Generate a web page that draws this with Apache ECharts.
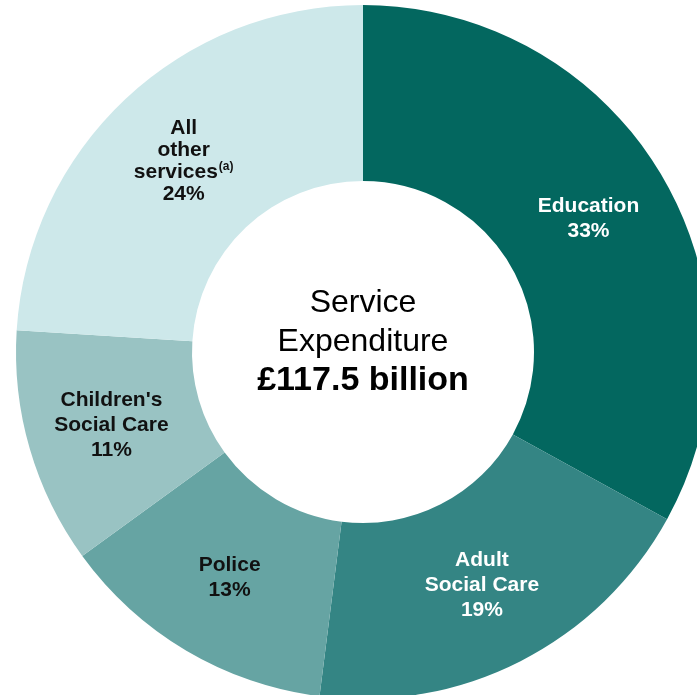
<!DOCTYPE html>
<html>
<head>
<meta charset="utf-8">
<script src="https://cdn.jsdelivr.net/npm/echarts@6/dist/echarts.min.js"></script>
<style>
html,body{margin:0;padding:0;background:#fff;}
#main{width:697px;height:695px;}
</style>
</head>
<body>
<div id="main"></div>
<script>
var categories = ["Education", "Adult Social Care", "Police", "Children's Social Care", "All other services"];
var values = [33, 19, 13, 11, 24];
var labelLines = [
  ["Education"],
  ["Adult", "Social Care"],
  ["Police"],
  ["Children's", "Social Care"],
  ["All", "other", "services"]
];
var footnote = "(a)";
var centerLines = ["Service", "Expenditure", "£117.5 billion"];
var colors = ["#03675f", "#348584", "#66a4a3", "#99c3c3", "#cde8ea"];
var labelColors = ["#ffffff", "#ffffff", "#111111", "#111111", "#111111"];

var FONT = "'Liberation Sans', Arial, sans-serif";

var data = categories.map(function (c, i) {
  var lines = labelLines[i].map(function (l, j) {
    var s = '{b|' + l + '}';
    if (i === 4 && j === labelLines[i].length - 1) s += '{sup|' + footnote + '}';
    return s;
  });
  lines.push('{b|' + values[i] + '%}');
  var lh = i === 4 ? 22 : 25;
  return {
    name: c,
    value: values[i],
    itemStyle: { color: colors[i] },
    label: {
      formatter: lines.join('\n'),
      rich: {
        b: { fontFamily: FONT, fontWeight: 'bold', fontSize: 21, lineHeight: lh, color: labelColors[i] },
        sup: { fontFamily: FONT, fontWeight: 'bold', fontSize: 12, lineHeight: lh, verticalAlign: 'top', color: labelColors[i], padding: [0, 0, 0, 1] }
      }
    }
  };
});

var chart = echarts.init(document.getElementById('main'), null, { renderer: 'canvas' });
chart.setOption({
  animation: false,
  backgroundColor: '#ffffff',
  series: [{
    type: 'pie',
    center: [363, 352],
    radius: [171, 347],
    startAngle: 90,
    clockwise: true,
    avoidLabelOverlap: false,
    silent: true,
    label: { show: true, position: 'inside', align: 'center' },
    labelLine: { show: false },
    itemStyle: { borderWidth: 0 },
    data: data
  }],
  graphic: [{
    type: 'text',
    x: 363,
    y: 342,
    style: {
      text: '{n|' + centerLines[0] + '}\n{n|' + centerLines[1] + '}\n{bb|' + centerLines[2] + '}',
      align: 'center',
      verticalAlign: 'middle',
      rich: {
        n: { fontFamily: FONT, fontSize: 32, lineHeight: 39, color: '#111111', align: 'center' },
        bb: { fontFamily: FONT, fontSize: 34, fontWeight: 'bold', lineHeight: 39, color: '#111111', align: 'center' }
      }
    }
  }]
});
</script>
</body>
</html>
